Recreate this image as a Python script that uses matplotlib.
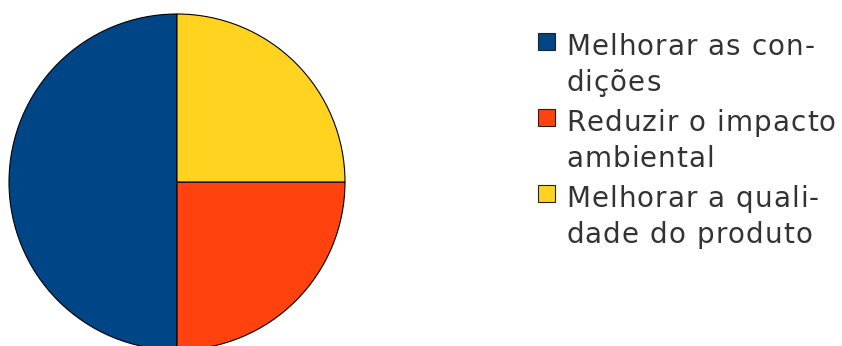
import matplotlib.pyplot as plt
from matplotlib.patches import Rectangle
from matplotlib.font_manager import FontProperties, findfont
from matplotlib.ft2font import FT2Font

# Dados do grafico
labels = ['Melhorar as con-\ndições',
          'Reduzir o impacto\nambiental',
          'Melhorar a quali-\ndade do produto']
values = [50, 25, 25]
colors = ['#004586', '#ff420e', '#ffd320']

W, H = 842, 346
DPI = 100
FS = 20
TRACK = 1.1  # espacamento extra entre letras (px)
fig = plt.figure(figsize=(W / DPI, H / DPI), dpi=DPI)

# Pizza: centro (177, 182) px, raio 168 px
cx, cy, r = 177, 182, 168
ax = fig.add_axes([(cx - r) / W, (H - cy - r) / H, 2 * r / W, 2 * r / H])
ax.pie(values, colors=colors, startangle=90, counterclock=True,
       wedgeprops={'edgecolor': 'black', 'linewidth': 0.8})
ax.set_xlim(-1, 1)
ax.set_ylim(-1, 1)
ax.set_aspect('auto')
ax.axis('off')

# Avanco de cada caractere na fonte
font = FT2Font(findfont(FontProperties(family='DejaVu Sans')))
font.set_size(FS, DPI)


def advance(ch):
    g = font.load_char(ord(ch))
    return g.linearHoriAdvance / 65536


def draw_line(x, y, s):
    '''
        Desenha uma linha de texto letra a letra com espacamento extra
    '''
    for ch in s:
        if ch != ' ':
            fig.text(x / W, 1 - y / H, ch, fontsize=FS, color='#333333',
                     va='baseline', ha='left', family='DejaVu Sans')
        x += advance(ch) + TRACK


# Legenda desenhada a mao (rotulos de duas linhas)
text_x = 566
box_x, box_s = 538, 17
baselines = [55, 131, 207]
line_gap = 36
for label, color, base in zip(labels, colors, baselines):
    fig.patches.append(Rectangle((box_x / W, 1 - (base - 5) / H), box_s / W, box_s / H,
                                 transform=fig.transFigure, facecolor=color,
                                 edgecolor='#222222', linewidth=0.8))
    for i, line in enumerate(label.split('\n')):
        draw_line(text_x, base + i * line_gap, line)

fig.savefig('out.png', dpi=DPI)
